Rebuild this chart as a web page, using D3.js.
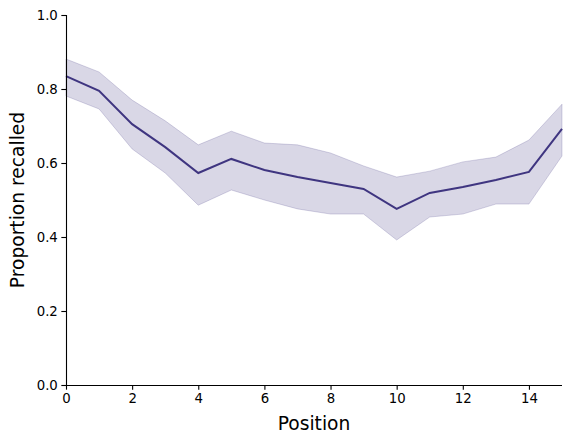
<!DOCTYPE html>
<html>
<head>
<meta charset="utf-8">
<script src="https://cdn.jsdelivr.net/npm/d3@7"></script>
<style>
  body { margin: 0; background: #fff; }
  svg text { font-family: "DejaVu Sans", sans-serif; fill: #000; }
</style>
</head>
<body>
<div id="chart"></div>
<script>
// données
const positions = [0, 1, 2, 3, 4, 5, 6, 7, 8, 9, 10, 11, 12, 13, 14, 15];
const meanRecall = [0.835, 0.795, 0.705, 0.643, 0.573, 0.611, 0.581, 0.562, 0.546, 0.530, 0.476, 0.519, 0.535, 0.554, 0.576, 0.692];
const upperCI = [0.881, 0.846, 0.770, 0.714, 0.649, 0.686, 0.654, 0.649, 0.627, 0.592, 0.562, 0.578, 0.603, 0.616, 0.662, 0.759];
const lowerCI = [0.781, 0.746, 0.638, 0.573, 0.486, 0.527, 0.500, 0.476, 0.462, 0.462, 0.392, 0.454, 0.462, 0.489, 0.489, 0.619];
const xTicks = [0, 2, 4, 6, 8, 10, 12, 14];
const yTicks = [0, 0.2, 0.4, 0.6, 0.8, 1.0];

const data = positions.map((p, i) => ({ pos: p, mean: meanRecall[i], lo: lowerCI[i], hi: upperCI[i] }));

// dimensions
const margin = { top: 15, right: 10, bottom: 58, left: 66 },
    width = 572 - margin.left - margin.right,
    height = 443 - margin.top - margin.bottom;

const svg = d3.select("#chart")
    .append("svg")
    .attr("width", 572)
    .attr("height", 443)
    .append("g")
    .attr("transform", `translate(${margin.left}, ${margin.top})`);

const lineColor = "#3f3580";

const x = d3.scaleLinear().domain([0, 15]).range([0, width]);
const y = d3.scaleLinear().domain([0, 1]).range([height, 0]);

// bande de confiance
const area = d3.area()
    .x(d => x(d.pos))
    .y0(d => y(d.lo))
    .y1(d => y(d.hi));

svg.append("path")
    .datum(data)
    .attr("d", area)
    .style("fill", lineColor)
    .style("fill-opacity", 0.2)
    .style("stroke", lineColor)
    .style("stroke-opacity", 0.2)
    .style("stroke-width", 1);

// courbe moyenne
const line = d3.line()
    .x(d => x(d.pos))
    .y(d => y(d.mean));

svg.append("path")
    .datum(data)
    .attr("d", line)
    .style("fill", "none")
    .style("stroke", lineColor)
    .style("stroke-width", 2);

// axes
const xAxis = svg.append("g")
    .attr("transform", `translate(0, ${height})`)
    .call(d3.axisBottom(x).tickValues(xTicks).tickSize(4.67).tickPadding(3.5).tickFormat(d3.format("d")));

const yAxis = svg.append("g")
    .call(d3.axisLeft(y).tickValues(yTicks).tickSize(4.67).tickPadding(3.5).tickFormat(d3.format(".1f")));

[xAxis, yAxis].forEach(a => {
    a.select(".domain").attr("stroke", "#000").attr("stroke-width", 1.1);
    a.selectAll(".tick line").attr("stroke", "#000").attr("stroke-width", 1.1);
    a.selectAll(".tick text").style("font-size", "13.3px").style("font-family", "DejaVu Sans");
});
xAxis.select(".domain").attr("d", `M0,0.5H${width}`);
yAxis.select(".domain").attr("d", `M0.5,${height}V0`);

// labels
svg.append("text")
    .attr("x", width / 2)
    .attr("y", height + 45)
    .attr("text-anchor", "middle")
    .style("font-size", "18.67px")
    .text("Position");

svg.append("text")
    .attr("transform", `translate(${-42}, ${height / 2}) rotate(-90)`)
    .attr("text-anchor", "middle")
    .style("font-size", "18.67px")
    .text("Proportion recalled");
</script>
</body>
</html>
